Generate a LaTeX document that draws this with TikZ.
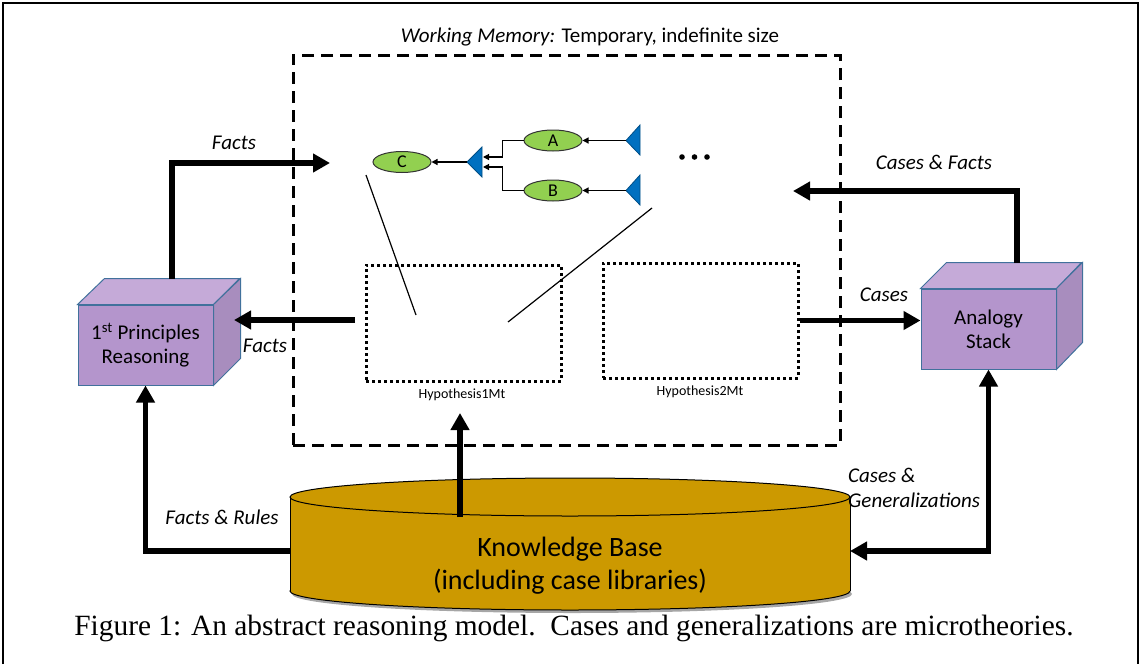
\documentclass[tikz,border=0pt]{standalone}
\usepackage{fontspec}
\setmainfont{Carlito}
\newfontfamily\capfont{Liberation Serif}
\usetikzlibrary{arrows.meta,calc,shapes.geometric}
\definecolor{cubefront}{HTML}{B495CC}
\definecolor{cubetop}{HTML}{C5AAD8}
\definecolor{cubeside}{HTML}{A88DBE}
\definecolor{cubeline}{HTML}{41719C}
\definecolor{kbfill}{HTML}{CC9900}
\definecolor{nodegreen}{HTML}{92D050}
\definecolor{triblue}{HTML}{0070C0}
\begin{document}
\begin{tikzpicture}[x=1pt,y=-1pt,
  bigarrow/.style={line width=5.5pt,line join=miter,-{Triangle[length=17pt,width=18pt]}},
  thinarrow/.style={line width=1.2pt,-{Triangle[length=6pt,width=6pt]}},
  lbl/.style={font=\fontsize{21}{25}\selectfont\itshape, inner sep=0},
  cubeface/.style={draw=cubeline, line width=1pt},
  cubebox/.style={cubeface, fill=cubefront, minimum width=135pt, minimum height=80pt, inner sep=0, align=center, font=\fontsize{21}{24}\selectfont},
  hyp/.style={draw, line width=3pt, dash pattern=on 3pt off 3pt, minimum width=195pt, minimum height=116pt, inner sep=0},
  leaf/.style={ellipse, draw=black!80, fill=nodegreen, line width=1pt, minimum width=58pt, minimum height=21pt, inner sep=0, font=\fontsize{18}{20}\selectfont},
  tri/.style={fill=triblue, draw=triblue!70!black, line width=0.8pt},
  thinline/.style={line width=1.2pt},
]
\useasboundingbox (0,0) rectangle (1140,664);
\draw[line width=2pt] (3,664) -- (3,3) -- (1138,3) -- (1138,664);

% working memory
\node[draw, line width=3pt, dash pattern=on 12pt off 7pt, minimum width=547pt, minimum height=390pt, inner sep=0] (wm) at (566.5,250) {};
\node[font=\fontsize{21}{25}\selectfont, inner sep=0] (wmt) at (590,37) {\textit{Working Memory:} Temporary, indefinite size};

\node[hyp] (h1) at (463.5,323) {};
\node[hyp, minimum height=115pt] (h2) at (700.5,320.5) {};
\node[font=\fontsize{14}{17}\selectfont, inner sep=0] (h1l) at (462,395) {Hypothesis1Mt};
\node[font=\fontsize{14}{17}\selectfont, inner sep=0] (h2l) at (700,392) {Hypothesis2Mt};

% small network
\node[leaf] (C) at (402,162) {C};
\node[leaf] (A) at (553,140.5) {A};
\node[leaf] (B) at (553,190.5) {B};
\draw[tri] (482,147) -- (482,177) -- (467,162) -- cycle;
\draw[tri] (640,125) -- (640,155) -- (626,140.5) -- cycle;
\draw[tri] (640,175) -- (640,205) -- (626,190.5) -- cycle;
\coordinate (t0tip) at (467,162);
\coordinate (t0a) at (483,157);
\coordinate (t0b) at (483,167);
\coordinate (tAtip) at (626,140.5);
\coordinate (tBtip) at (626,190.5);
\draw[thinarrow] (t0tip) -- (C.east);
\draw[thinarrow] (tAtip) -- (A.east);
\draw[thinarrow] (tBtip) -- (B.east);
\draw[thinarrow] (A.west) -- ++(-21,0) |- (t0a);
\draw[thinarrow] (B.west) -- ++(-21,0) |- (t0b);
\fill (682,157) circle (2.8pt) (694.5,157) circle (2.8pt) (707,157) circle (2.8pt);
\draw[thinline] (366,175) -- (416,315);
\draw[thinline] (508,322) -- (652,208);

% cubes
\node[cubebox] (fp) at (145.5,345) {1\textsuperscript{st} Principles\\Reasoning};
\draw[cubeface, fill=cubetop] (fp.north west) -- ++(27,-26) -- ++(135,0) -- (fp.north east) -- cycle;
\draw[cubeface, fill=cubeside] (fp.north east) -- ++(27,-26) -- ++(0,80) -- (fp.south east) -- cycle;
\node[cubebox] (as) at (988.5,329) {Analogy\\Stack};
\draw[cubeface, fill=cubetop] (as.north west) -- ++(26,-26) -- ++(135,0) -- (as.north east) -- cycle;
\draw[cubeface, fill=cubeside] (as.north east) -- ++(26,-26) -- ++(0,80) -- (as.south east) -- cycle;

% knowledge base cylinder
\fill[black!35] (572,594) ellipse [x radius=280, y radius=19];
\draw[line width=1pt, fill=kbfill] (570,591) ellipse [x radius=280, y radius=19];
\fill[kbfill] (290,497) rectangle (850,591);
\draw[line width=1pt] (290,497) -- (290,591) (850,497) -- (850,591);
\draw[line width=1pt, fill=kbfill] (570,497) ellipse [x radius=280, y radius=19];
\node[font=\fontsize{28}{33}\selectfont, align=center, inner sep=0] (kb) at (570,566) {Knowledge Base\\(including case libraries)};
\coordinate (kbl) at (290,551);
\coordinate (kbr) at (850,551);
\coordinate (kbt) at (460,517);
\coordinate (wmin) at (460,413);

% arrows
\coordinate (fpup) at (172,279);
\coordinate (factsend) at (330,163);
\draw[bigarrow] (fpup) |- (factsend);
\node[lbl] (lf1) at (234,143) {Facts};

\coordinate (h1out) at (355,320);
\coordinate (fpside) at (234,320);
\draw[bigarrow] (h1out) -- (fpside);
\node[lbl] (lf2) at (265,346) {Facts};

\draw[bigarrow] (h2.east) -- (h2.east -| as.west);
\node[lbl] (lc) at (884,295) {Cases};

\coordinate (asup) at (1017,263);
\coordinate (cfend) at (793,191);
\draw[bigarrow] (asup) |- (cfend);
\node[lbl] (lcf) at (934,162) {Cases \& Facts};

\draw[bigarrow] (kbt) -- (wmin);

\draw[bigarrow] (kbl) -| (fp.south);
\node[lbl] (lfr) at (222,517) {Facts \& Rules};

\draw[bigarrow, {Triangle[length=17pt,width=18pt]}-{Triangle[length=17pt,width=18pt]}] (kbr) -| (as.south);
\node[lbl, align=left, anchor=west] (lcg) at (848,488) {Cases \&\\Generalizations};

\node[font={\capfont\fontsize{29.4}{32}\selectfont}, inner sep=0] (cap) at (574,628) {Figure 1: An abstract reasoning model.\ \ Cases and generalizations are microtheories.};
\end{tikzpicture}
\end{document}
